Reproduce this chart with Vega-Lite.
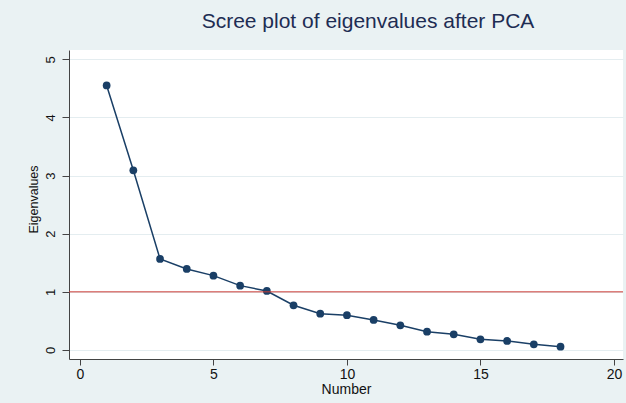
{
  "$schema": "https://vega.github.io/schema/vega-lite/v6.json",
  "width": 554,
  "height": 309,
  "autosize": {"type": "none"},
  "padding": {"left": 69, "top": 50, "right": 3, "bottom": 44},
  "background": "#eaf2f3",
  "title": {
    "text": "Scree plot of eigenvalues after PCA",
    "font": "Liberation Sans",
    "fontSize": 21,
    "fontWeight": "normal",
    "color": "#1e2d53",
    "anchor": "middle",
    "frame": "group",
    "dx": 22,
    "offset": 18
  },
  "config": {
    "view": {"fill": "white", "stroke": null},
    "axis": {
      "labelFont": "Liberation Sans",
      "titleFont": "Liberation Sans",
      "labelFontSize": 13,
      "titleFontSize": 13,
      "titleFontWeight": "normal",
      "labelColor": "#111111",
      "titleColor": "#111111",
      "domainColor": "#444444",
      "tickColor": "#444444",
      "tickSize": 7,
      "gridColor": "#e4edf0",
      "gridWidth": 1.2
    }
  },
  "data": {
    "values": [
      {"number": 1, "eigen": 4.55},
      {"number": 2, "eigen": 3.09},
      {"number": 3, "eigen": 1.566},
      {"number": 4, "eigen": 1.394},
      {"number": 5, "eigen": 1.279},
      {"number": 6, "eigen": 1.107},
      {"number": 7, "eigen": 1.015},
      {"number": 8, "eigen": 0.769},
      {"number": 9, "eigen": 0.625},
      {"number": 10, "eigen": 0.598},
      {"number": 11, "eigen": 0.516},
      {"number": 12, "eigen": 0.425},
      {"number": 13, "eigen": 0.315},
      {"number": 14, "eigen": 0.27},
      {"number": 15, "eigen": 0.184},
      {"number": 16, "eigen": 0.155},
      {"number": 17, "eigen": 0.098},
      {"number": 18, "eigen": 0.057}
    ]
  },
  "layer": [
    {
      "mark": {"type": "line", "color": "#1a3f66", "strokeWidth": 1.5},
      "encoding": {
        "x": {
          "field": "number", "type": "quantitative",
          "scale": {"domain": [-0.41, 20.34], "nice": false, "zero": false},
          "axis": {"values": [0, 5, 10, 15, 20], "format": "d", "title": "Number", "grid": false, "tickSize": 6, "labelFontSize": 14, "titleFontSize": 14, "labelPadding": 2, "titlePadding": 1}
        },
        "y": {
          "field": "eigen", "type": "quantitative",
          "scale": {"domain": [-0.155, 5.16], "nice": false, "zero": false},
          "axis": {"values": [0, 1, 2, 3, 4, 5], "format": "d", "title": "Eigenvalues", "grid": true, "labelAngle": 270, "labelAlign": "center", "labelBaseline": "bottom", "labelFontSize": 13, "titleFontSize": 12.5, "titleY": 149, "labelPadding": 5, "titlePadding": 4}
        }
      }
    },
    {
      "mark": {"type": "point", "filled": true, "opacity": 1, "color": "#1a3f66", "size": 60},
      "encoding": {
        "x": {"field": "number", "type": "quantitative"},
        "y": {"field": "eigen", "type": "quantitative"}
      }
    },
    {
      "data": {"values": [{"level": 1}]},
      "mark": {"type": "rule", "color": "#cc3a35", "strokeWidth": 1},
      "encoding": {
        "y": {"field": "level", "type": "quantitative"}
      }
    }
  ]
}
